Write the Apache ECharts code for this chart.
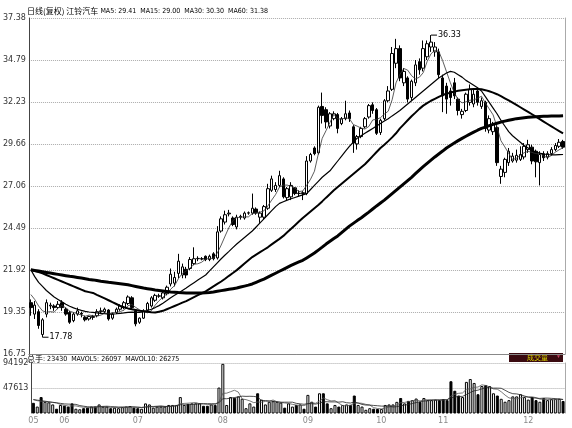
<!DOCTYPE html>
<html>
<head>
<meta charset="utf-8">
<script src="https://cdn.jsdelivr.net/npm/echarts@6/dist/echarts.min.js"></script>
<style>
  html, body { margin: 0; padding: 0; background: #fff; }
  #chart { width: 572px; height: 428px; }
</style>
</head>
<body>
<div id="chart"></div>
<script>
// trading days, 2010-05-20 .. 2010-12-14
const dates = [
  '05-20', '05-21', '05-24', '05-25', '05-26', '05-27', '05-28', '05-31',
  '06-01', '06-02', '06-03', '06-04', '06-07', '06-08', '06-09', '06-10', '06-11', '06-17',
  '06-18', '06-21', '06-22', '06-23', '06-24', '06-25', '06-28', '06-29', '06-30',
  '07-01', '07-02', '07-05', '07-06', '07-07', '07-08', '07-09', '07-12', '07-13', '07-14',
  '07-15', '07-16', '07-19', '07-20', '07-21', '07-22', '07-23', '07-26', '07-27', '07-28',
  '07-29', '07-30',
  '08-02', '08-03', '08-04', '08-05', '08-06', '08-09', '08-10', '08-11', '08-12', '08-13',
  '08-16', '08-17', '08-18', '08-19', '08-20', '08-23', '08-24', '08-25', '08-26', '08-27',
  '08-30', '08-31',
  '09-01', '09-02', '09-03', '09-06', '09-07', '09-08', '09-09', '09-10', '09-13', '09-14',
  '09-15', '09-16', '09-17', '09-20', '09-21', '09-27', '09-28', '09-29', '09-30',
  '10-08', '10-11', '10-12', '10-13', '10-14', '10-15', '10-18', '10-19', '10-20', '10-21',
  '10-22', '10-25', '10-26', '10-27', '10-28', '10-29',
  '11-01', '11-02', '11-03', '11-04', '11-05', '11-08', '11-09', '11-10', '11-11', '11-12',
  '11-15', '11-16', '11-17', '11-18', '11-19', '11-22', '11-23', '11-24', '11-25', '11-26',
  '11-29', '11-30',
  '12-01', '12-02', '12-03', '12-06', '12-07', '12-08', '12-09', '12-10', '12-13', '12-14'
];

const openPrice = [
  19.9, 19.2, 19.35, 17.95, 19.2, 19.7, 19.7, 19.6, 19.9, 19.5,
  19.3, 18.8, 19.2, 19.25, 19.0, 18.9, 19.05, 19.1, 19.35, 19.35,
  19.45, 18.95, 19.3, 19.5, 19.6, 19.85, 20.2, 19.4, 18.7, 18.95,
  19.45, 19.7, 20.05, 20.3, 20.2, 20.45, 21.05, 21.1, 21.7, 21.6,
  21.95, 22.0, 22.3, 22.6, 22.6, 22.75, 22.55, 22.9, 22.65, 24.3,
  24.85, 25.35, 25.1, 24.55, 25.15, 25.1, 25.4, 25.4, 25.65, 25.15,
  25.15, 25.7, 26.8, 26.85, 27.1, 27.5, 26.35, 26.4, 26.95, 26.6,
  26.65, 26.6, 28.6, 29.4, 29.1, 31.95, 31.75, 30.75, 31.2, 31.45,
  30.9, 31.2, 31.55, 30.7, 29.65, 30.1, 30.7, 31.3, 32.05, 31.75,
  30.35, 31.2, 32.3, 33.0, 34.6, 35.5, 33.4, 33.7, 32.5, 33.4,
  34.7, 34.3, 35.0, 35.6, 35.3, 35.3, 33.7, 33.2, 32.9, 33.4,
  32.4, 31.45, 31.7, 32.2, 32.1, 32.9, 31.95, 32.2, 30.5, 30.4,
  30.65, 27.65, 27.9, 28.5, 28.6, 28.65, 28.7, 28.85, 29.3, 29.45,
  29.2, 28.5, 29.05, 28.85, 29.05, 29.3, 29.5, 29.8
];
const closePrice = [
  19.6, 19.75, 18.5, 18.85, 19.9, 19.75, 19.6, 19.8, 19.6, 19.2,
  18.7, 19.2, 19.4, 19.2, 18.85, 19.05, 19.0, 19.35, 19.4, 19.5,
  18.9, 19.2, 19.5, 19.7, 19.9, 20.25, 19.6, 18.6, 18.95, 19.4,
  19.85, 20.2, 20.35, 20.32, 20.5, 20.85, 21.65, 21.45, 22.45, 22.1,
  21.6, 22.55, 22.6, 22.62, 22.58, 22.55, 22.75, 22.6, 24.25, 25.05,
  25.3, 25.4, 24.7, 25.15, 25.2, 25.4, 25.42, 25.7, 25.4, 25.4,
  25.8, 26.9, 27.5, 27.1, 27.7, 26.4, 26.9, 27.1, 26.6, 26.62,
  26.6, 28.6, 29.0, 29.05, 31.9, 31.4, 31.0, 31.5, 31.5, 30.6,
  31.2, 31.5, 31.2, 29.7, 30.1, 30.6, 31.2, 32.0, 31.7, 30.3,
  31.1, 32.3, 32.9, 35.2, 35.5, 33.7, 34.1, 32.4, 33.5, 34.5,
  34.2, 35.5, 35.8, 35.9, 35.6, 33.9, 32.6, 32.4, 32.5, 32.6,
  31.7, 31.65, 32.7, 33.0, 32.7, 32.2, 32.3, 30.6, 31.2, 30.85,
  28.5, 28.1, 28.7, 29.2, 28.9, 28.95, 29.0, 29.5, 29.6, 28.6,
  28.55, 29.0, 28.8, 29.05, 29.3, 29.55, 29.75, 29.45
];
const lowPrice = [
  19.1, 18.9, 18.3, 17.78, 19.0, 19.5, 19.4, 19.5, 19.4, 19.1,
  18.6, 18.7, 19.1, 19.0, 18.75, 18.8, 18.85, 19.0, 19.2, 19.25,
  18.8, 18.85, 19.2, 19.4, 19.5, 19.75, 19.5, 18.45, 18.6, 18.9,
  19.35, 19.6, 19.95, 20.2, 20.1, 20.35, 20.9, 20.9, 21.4, 21.4,
  21.4, 21.9, 22.2, 22.45, 22.5, 22.45, 22.45, 22.5, 22.55, 24.2,
  24.7, 25.2, 24.6, 24.4, 25.0, 25.0, 25.3, 25.3, 25.3, 24.8,
  25.0, 25.6, 26.7, 26.7, 27.0, 26.3, 26.2, 26.2, 26.5, 26.4,
  26.2, 26.5, 28.5, 28.95, 29.0, 30.9, 30.6, 30.6, 31.1, 30.3,
  30.8, 31.1, 31.0, 29.1, 29.3, 30.0, 30.6, 31.2, 31.5, 30.2,
  30.2, 31.1, 32.2, 32.9, 34.3, 33.5, 33.2, 32.2, 32.3, 33.2,
  33.9, 34.1, 34.8, 35.3, 35.0, 33.7, 31.6, 31.5, 32.0, 32.4,
  31.4, 31.2, 31.6, 32.0, 31.9, 32.0, 31.8, 30.4, 30.3, 30.2,
  28.3, 27.2, 27.6, 28.3, 28.5, 28.5, 28.6, 28.7, 29.1, 28.4,
  27.6, 27.1, 28.6, 28.7, 28.95, 29.2, 29.4, 29.35
];
const highPrice = [
  20.1, 20.0, 19.5, 18.95, 20.1, 19.9, 19.8, 20.0, 20.05, 19.6,
  19.4, 19.3, 19.6, 19.35, 19.1, 19.1, 19.15, 19.5, 19.6, 19.6,
  19.5, 19.3, 19.6, 19.8, 20.0, 20.35, 20.3, 19.5, 19.0, 19.5,
  19.95, 20.3, 20.45, 20.45, 20.6, 20.95, 22.0, 21.8, 22.9, 22.3,
  22.1, 22.7, 23.3, 22.75, 22.7, 22.8, 22.85, 23.0, 24.6, 25.2,
  25.55, 25.6, 25.2, 25.3, 25.3, 25.5, 25.5, 26.6, 25.75, 25.5,
  25.9, 27.2, 27.7, 27.3, 28.0, 27.6, 27.0, 27.3, 27.0, 26.8,
  26.75, 28.9, 29.1, 29.5, 32.0, 32.8, 31.9, 31.6, 31.65, 31.55,
  31.3, 32.3, 31.7, 30.8, 30.2, 30.7, 31.3, 32.1, 32.2, 31.85,
  31.2, 32.4, 33.2, 35.6, 36.1, 35.7, 34.3, 33.8, 33.6, 34.8,
  34.9, 36.0, 36.0, 36.33, 35.9, 35.5, 33.9, 33.4, 33.1, 33.7,
  32.5, 31.8, 32.8, 33.3, 33.0, 33.1, 32.5, 32.3, 31.4, 31.0,
  30.8, 28.3, 28.8, 29.4, 29.1, 29.3, 29.5, 29.7, 29.9, 29.6,
  29.3, 29.2, 29.2, 29.2, 29.45, 29.7, 29.95, 29.9
];

const ma5 = [
  20.4, 20.1, 19.7, 19.4, 19.32, 19.35, 19.32, 19.58, 19.73, 19.59,
  19.38, 19.3, 19.22, 19.14, 19.07, 19.14, 19.1, 19.09, 19.13, 19.26,
  19.23, 19.27, 19.3, 19.36, 19.44, 19.71, 19.79, 19.61, 19.46, 19.36,
  19.28, 19.4, 19.75, 20.02, 20.24, 20.44, 20.73, 20.95, 21.38, 21.7,
  21.85, 22.03, 22.26, 22.29, 22.39, 22.58, 22.62, 22.62, 22.95, 23.44,
  23.99, 24.52, 24.94, 25.12, 25.15, 25.17, 25.17, 25.37, 25.42, 25.46,
  25.54, 25.84, 26.2, 26.54, 27.0, 27.12, 27.12, 27.04, 26.94, 26.72,
  26.76, 27.1, 27.48, 27.97, 29.03, 29.99, 30.47, 30.97, 31.46, 31.2,
  31.16, 31.26, 31.2, 30.84, 30.74, 30.62, 30.56, 30.72, 31.12, 31.16,
  31.26, 31.48, 31.66, 32.36, 33.4, 33.92, 34.28, 34.18, 33.84, 33.64,
  33.74, 34.02, 34.7, 35.18, 35.4, 35.34, 34.76, 34.08, 33.4, 32.8,
  32.36, 32.17, 32.23, 32.33, 32.35, 32.45, 32.58, 32.16, 31.8, 31.43,
  30.69, 29.85, 29.47, 29.07, 28.68, 28.77, 28.95, 29.11, 29.19, 29.13,
  29.05, 29.05, 28.91, 28.8, 28.94, 29.14, 29.29, 29.41
];
const ma15 = [
  21.92, 21.5, 21.15, 20.9, 20.65, 20.45, 20.25, 20.1, 19.95, 19.8,
  19.68, 19.58, 19.5, 19.43, 19.37, 19.33, 19.3, 19.27, 19.24, 19.22,
  19.2, 19.2, 19.22, 19.25, 19.27, 19.3, 19.32, 19.3, 19.3, 19.35,
  19.42, 19.5, 19.6, 19.72, 19.87, 20.03, 20.2, 20.35, 20.5, 20.65,
  20.8, 20.97, 21.13, 21.29, 21.45, 21.6, 21.85, 22.1, 22.35, 22.6,
  22.83, 23.05, 23.28, 23.5, 23.7, 23.9, 24.1, 24.3, 24.55, 24.8,
  25.05, 25.3, 25.55, 25.8, 26.0, 26.1, 26.2, 26.28, 26.36, 26.44,
  26.52, 26.6, 26.85, 27.1, 27.35, 27.6, 27.8, 28.0, 28.3, 28.6,
  28.9, 29.2, 29.5, 29.75, 30.0, 30.15, 30.3, 30.45, 30.6, 30.75,
  30.9, 31.05, 31.2, 31.37, 31.53, 31.7, 31.9, 32.1, 32.3, 32.5,
  32.7, 32.9, 33.1, 33.3, 33.5, 33.7, 33.85, 34.0, 34.1, 34.05,
  33.9, 33.75, 33.55, 33.4, 33.25, 33.1, 32.9, 32.55, 32.2, 31.85,
  31.5, 31.1, 30.75, 30.4, 30.15, 29.95, 29.75, 29.55, 29.4, 29.25,
  29.15, 29.08, 29.03, 29.0, 28.98, 28.98, 28.99, 29.0
];
const ma30 = [
  21.92, 21.85, 21.78, 21.7, 21.6, 21.5, 21.4, 21.3, 21.2, 21.1,
  21.0, 20.9, 20.8, 20.7, 20.6, 20.55, 20.5, 20.38, 20.27, 20.16,
  20.05, 19.93, 19.82, 19.7, 19.62, 19.55, 19.5, 19.45, 19.4, 19.37,
  19.35, 19.32, 19.3, 19.35, 19.4, 19.5, 19.6, 19.7, 19.8, 19.9,
  20.0, 20.12, 20.24, 20.36, 20.48, 20.6, 20.75, 20.9, 21.05, 21.2,
  21.37, 21.55, 21.72, 21.9, 22.1, 22.3, 22.5, 22.7, 22.85, 23.0,
  23.15, 23.3, 23.48, 23.65, 23.82, 24.0, 24.22, 24.44, 24.66, 24.88,
  25.1, 25.3, 25.5, 25.7, 25.9, 26.12, 26.35, 26.57, 26.8, 27.0,
  27.2, 27.4, 27.6, 27.8, 28.0, 28.2, 28.4, 28.65, 28.9, 29.15,
  29.4, 29.6, 29.82, 30.05, 30.3, 30.6, 30.85, 31.1, 31.35, 31.57,
  31.8, 32.0, 32.15, 32.3, 32.42, 32.54, 32.65, 32.73, 32.8, 32.86,
  32.91, 32.95, 32.98, 33.0, 33.02, 33.02, 33.0, 32.95, 32.88, 32.8,
  32.7, 32.58, 32.45, 32.32, 32.18, 32.04, 31.9, 31.76, 31.62, 31.47,
  31.32, 31.17, 31.02, 30.87, 30.72, 30.58, 30.44, 30.3
];
const ma60 = [
  21.92, 21.88, 21.84, 21.8, 21.76, 21.72, 21.68, 21.64, 21.6, 21.56,
  21.52, 21.49, 21.45, 21.41, 21.37, 21.33, 21.3, 21.26, 21.22, 21.19,
  21.15, 21.12, 21.09, 21.06, 21.03, 21.0, 20.95, 20.9, 20.85, 20.8,
  20.76, 20.72, 20.68, 20.65, 20.62, 20.59, 20.56, 20.54, 20.52, 20.51,
  20.5, 20.5, 20.5, 20.5, 20.5, 20.51, 20.53, 20.56, 20.6, 20.64,
  20.68, 20.72, 20.76, 20.8, 20.86, 20.92, 20.98, 21.05, 21.15, 21.25,
  21.35, 21.47, 21.59, 21.71, 21.83, 21.95, 22.07, 22.19, 22.3, 22.4,
  22.5, 22.65, 22.8, 22.95, 23.13, 23.31, 23.5, 23.67, 23.84, 24.0,
  24.2, 24.4, 24.6, 24.77, 24.94, 25.1, 25.28, 25.46, 25.65, 25.84,
  26.02, 26.2, 26.4, 26.6, 26.8, 27.0, 27.2, 27.4, 27.6, 27.82,
  28.04, 28.25, 28.45, 28.65, 28.85, 29.03, 29.21, 29.4, 29.55, 29.7,
  29.85, 29.99, 30.12, 30.25, 30.37, 30.49, 30.6, 30.68, 30.77, 30.85,
  30.92, 30.99, 31.05, 31.1, 31.15, 31.2, 31.23, 31.26, 31.28, 31.3,
  31.32, 31.33, 31.34, 31.35, 31.36, 31.37, 31.37, 31.38
];

const volume = [
  20000, 13000, 30700, 21800, 21000, 17000, 9000, 16000, 14700, 13000,
  18900, 9000, 8000, 10000, 11000, 13000, 13000, 17000, 13000, 13000,
  10000, 11000, 10000, 12000, 13000, 14000, 11000, 10000, 9000, 18900,
  17000, 11000, 13000, 13000, 13000, 16000, 16000, 16000, 30700, 16000,
  18000, 19000, 19000, 19000, 14500, 14500, 17000, 16000, 48400, 92600,
  16000, 30700, 29500, 31900, 27500, 10000, 19000, 13000, 37800, 26000,
  17000, 22000, 23000, 22000, 20500, 11000, 19000, 13000, 16000, 17000,
  9000, 34800, 22000, 13000, 37800, 37800, 19000, 10000, 16000, 13000,
  16000, 17000, 16000, 33600, 16000, 13000, 7000, 10000, 9000, 8500,
  8500, 16000, 17000, 17000, 21800, 29000, 19000, 23600, 25000, 28000,
  22000, 29000, 25000, 25000, 26000, 25000, 27000, 25000, 60200, 42500,
  33600, 30700, 59000, 64300, 57000, 36000, 51300, 53000, 51300, 37800,
  33600, 27500, 22000, 25000, 32000, 32000, 36000, 30700, 26000, 30700,
  25000, 22000, 28600, 25000, 27000, 27500, 27500, 23430
];
const mavol5 = [
  26000, 24000, 23000, 22000, 21300, 20700, 19900, 17000, 15500, 13900,
  14300, 14300, 12700, 11800, 11400, 10200, 11000, 12800, 13400, 13800,
  13200, 12800, 11400, 11200, 11200, 12000, 12000, 12000, 11400, 12600,
  13200, 13200, 13800, 14600, 13400, 13200, 14200, 14800, 18300, 18900,
  19300, 19900, 20500, 18200, 17900, 17200, 16800, 16200, 22100, 37700,
  38000, 40700, 43400, 40100, 27100, 25900, 23600, 20300, 21500, 21200,
  22600, 23200, 25200, 22000, 20900, 19700, 19100, 17100, 15900, 15200,
  14800, 18000, 19800, 19200, 23300, 29100, 25900, 23500, 24100, 19200,
  14800, 14400, 15600, 19100, 19700, 19100, 17100, 15900, 11000, 9500,
  8600, 10400, 11800, 13400, 16100, 20200, 20800, 22100, 23700, 24900,
  23500, 25500, 25800, 25800, 25400, 26000, 25600, 25600, 32600, 35900,
  37700, 38400, 45200, 46000, 48900, 49400, 53500, 52300, 49700, 45900,
  45400, 40600, 34400, 29200, 28000, 27700, 29400, 31100, 31300, 31100,
  29700, 26900, 26500, 26300, 25500, 26000, 27100, 26097
];
const mavol10 = [
  26000, 25000, 24000, 23000, 22000, 21000, 20000, 19000, 18000, 17600,
  17500, 17100, 14900, 13700, 12700, 12300, 12700, 12800, 12600, 12600,
  11700, 11900, 12100, 12300, 12500, 12600, 12400, 11700, 11300, 11900,
  12600, 12600, 12900, 13000, 13000, 13200, 13700, 14300, 16500, 16200,
  16300, 17100, 17700, 18300, 18400, 18300, 18400, 18400, 20200, 27800,
  27600, 28800, 29800, 31100, 32400, 32000, 32200, 31900, 30800, 24200,
  24300, 23400, 22800, 21800, 21100, 21200, 21200, 21200, 19000, 18100,
  17300, 18600, 18500, 17600, 19300, 22000, 22000, 21700, 21700, 21300,
  22000, 20200, 19600, 21600, 19500, 17000, 15800, 15800, 15100, 14600,
  13900, 13800, 13900, 12200, 12800, 14400, 15600, 17000, 18600, 20500,
  21900, 23200, 24000, 24800, 25200, 24800, 25600, 25700, 29200, 30700,
  31900, 32000, 35400, 39300, 42400, 43600, 46000, 48800, 47900, 47400,
  47400, 47100, 43400, 39500, 37000, 36600, 35000, 32800, 30300, 29600,
  28700, 28200, 28800, 28800, 28300, 27900, 27000, 26275
];

const priceTicks = ['16.75', '19.35', '21.92', '24.49', '27.06', '29.66', '32.23', '34.79', '37.38'];
const volumeTicks = ['', '47613', '94192'];

const FONT = '"DejaVu Sans", "Noto Sans CJK SC", sans-serif';
const NARROW = '"Liberation Sans Narrow", "DejaVu Sans Condensed", sans-serif';
const CJK = '"Noto Sans CJK SC", sans-serif';
const last = (arr) => arr[arr.length - 1];

const candleData = dates.map((d, i) => [openPrice[i], closePrice[i], lowPrice[i], highPrice[i]]);
const volumeData = volume.map((v, i) => ({
  value: v,
  itemStyle: closePrice[i] >= openPrice[i]
    ? { color: '#fff', borderColor: '#000', borderWidth: 1 }
    : { color: '#000', borderColor: '#000', borderWidth: 1 },
}));

const hiIdx = highPrice.indexOf(Math.max(...highPrice));
const loIdx = lowPrice.indexOf(Math.min(...lowPrice));

const isMonthStart = (i) => i === 0 || dates[i].slice(0, 2) !== dates[i - 1].slice(0, 2);

const maLine = (name, data, width, color) => ({
  name,
  type: 'line',
  data,
  xAxisIndex: 0,
  yAxisIndex: 0,
  showSymbol: false,
  silent: true,
  lineStyle: { width, color },
  z: 3,
})

// header text: chinese part in CJK font, numbers in a narrow font
const headerRich = {
  cn: { fontSize: 8, fontFamily: CJK, color: '#000' },
  en: { fontSize: 7, fontFamily: NARROW, color: '#000' },
}

const chart = echarts.init(document.getElementById('chart'))

chart.setOption({
  animation: false,
  backgroundColor: '#fff',
  title: [
    {
      text: '{cn|日线(复权) 江铃汽车} {en|MA5: ' + last(ma5).toFixed(2) + '  MA15: ' + last(ma15).toFixed(2)
        + '  MA30: ' + last(ma30).toFixed(2) + '  MA60: ' + last(ma60).toFixed(2) + '}',
      left: 27,
      top: 7,
      padding: 0,
      textStyle: { fontSize: 8, fontWeight: 'normal', rich: headerRich },
    },
    {
      text: '{cn|总手}{en|: ' + last(volume) + '  MAVOL5: ' + last(mavol5) + '  MAVOL10: ' + last(mavol10) + '}',
      left: 27,
      top: 355,
      padding: 0,
      textStyle: { fontSize: 8, fontWeight: 'normal', rich: headerRich },
    },
  ],
  grid: [
    { left: 26, right: 7, top: 18, height: 336 },
    { left: 26, right: 7, top: 363, height: 50 },
  ],
  xAxis: [
    {
      type: 'category',
      gridIndex: 0,
      data: dates,
      axisLine: { show: true, lineStyle: { color: '#888', width: 1 } },
      axisTick: { show: false },
      axisLabel: { show: false },
      splitLine: { show: false },
    },
    {
      type: 'category',
      gridIndex: 1,
      data: dates,
      axisLine: { show: false },
      axisTick: { show: false },
      axisLabel: {
        interval: (i) => isMonthStart(i),
        formatter: (v) => v.slice(0, 2),
        color: '#888',
        fontSize: 8,
        margin: 4,
        fontFamily: FONT,
      },
      splitLine: { show: false },
    },
  ],
  yAxis: [
    {
      type: 'value',
      gridIndex: 0,
      min: 16.75,
      max: 37.38,
      position: 'right',
      axisLine: { show: true, lineStyle: { color: '#aaa' } },
      axisTick: { show: false },
      axisLabel: { show: false },
      splitLine: { show: false },
    },
    {
      type: 'value',
      gridIndex: 0,
      min: 0,
      max: 8,
      interval: 1,
      position: 'left',
      axisLine: { show: true, lineStyle: { color: '#444' } },
      axisTick: { show: false },
      axisLabel: {
        formatter: (v) => priceTicks[v],
        color: '#333',
        fontSize: 8,
        margin: 3,
        fontFamily: FONT,
      },
      splitLine: { show: true, lineStyle: { type: 'dotted', color: '#aaa' } },
    },
    {
      type: 'value',
      gridIndex: 1,
      min: 1034,
      max: 94192,
      position: 'right',
      axisLine: { show: true, lineStyle: { color: '#aaa' } },
      axisTick: { show: false },
      axisLabel: { show: false },
      splitLine: { show: false },
    },
    {
      type: 'value',
      gridIndex: 1,
      min: 0,
      max: 2,
      interval: 1,
      position: 'left',
      axisLine: { show: true, lineStyle: { color: '#444' } },
      axisTick: { show: false },
      axisLabel: {
        formatter: (v) => volumeTicks[v],
        color: '#333',
        fontSize: 8,
        margin: 3,
        fontFamily: FONT,
      },
      splitLine: { show: true, lineStyle: { type: 'dotted', color: ['transparent', '#aaa', '#aaa'] } },
    },
  ],
  series: [
    {
      name: 'K',
      type: 'candlestick',
      data: candleData,
      xAxisIndex: 0,
      yAxisIndex: 0,
      barWidth: 3,
      silent: true,
      itemStyle: {
        color: '#fff',
        color0: '#000',
        borderColor: '#000',
        borderColor0: '#000',
        borderWidth: 1,
      },
      markPoint: {
        silent: true,
        symbol: 'rect',
        symbolSize: [6, 1],
        symbolOffset: [3, 0],
        itemStyle: { color: '#000' },
        label: {
          show: true,
          position: 'right',
          distance: 1,
          color: '#000',
          fontSize: 8,
          fontFamily: FONT,
          formatter: (p) => p.value.toFixed(2),
        },
        data: [
          { coord: [hiIdx, highPrice[hiIdx]], value: highPrice[hiIdx] },
          { coord: [loIdx, lowPrice[loIdx]], value: lowPrice[loIdx] },
        ],
      },
      z: 2,
    },
    maLine('MA5', ma5, 0.8, '#333'),
    maLine('MA15', ma15, 1.2, '#000'),
    maLine('MA30', ma30, 2, '#000'),
    maLine('MA60', ma60, 3, '#000'),
    {
      name: '成交量',
      type: 'bar',
      data: volumeData,
      xAxisIndex: 1,
      yAxisIndex: 2,
      barWidth: 3,
      silent: true,
    },
    {
      name: 'MAVOL5',
      type: 'line',
      data: mavol5,
      xAxisIndex: 1,
      yAxisIndex: 2,
      showSymbol: false,
      silent: true,
      lineStyle: { width: 0.8, color: '#555' },
    },
    {
      name: 'MAVOL10',
      type: 'line',
      data: mavol10,
      xAxisIndex: 1,
      yAxisIndex: 2,
      showSymbol: false,
      silent: true,
      lineStyle: { width: 0.8, color: '#222' },
    },
  ],
  graphic: [
    {
      type: 'group',
      right: 9,
      top: 353,
      children: [
        { type: 'rect', shape: { x: 0, y: 0, width: 54, height: 9 }, style: { fill: '#3a0a10' } },
        { type: 'text', x: 18, y: 1, style: { text: '成交量', fill: '#d6d000', fontSize: 7, fontFamily: CJK } },
        { type: 'text', x: 47, y: 1, style: { text: '▼', fill: '#c04060', fontSize: 5 } },
      ],
    },
  ],
})
</script>
</body>
</html>
